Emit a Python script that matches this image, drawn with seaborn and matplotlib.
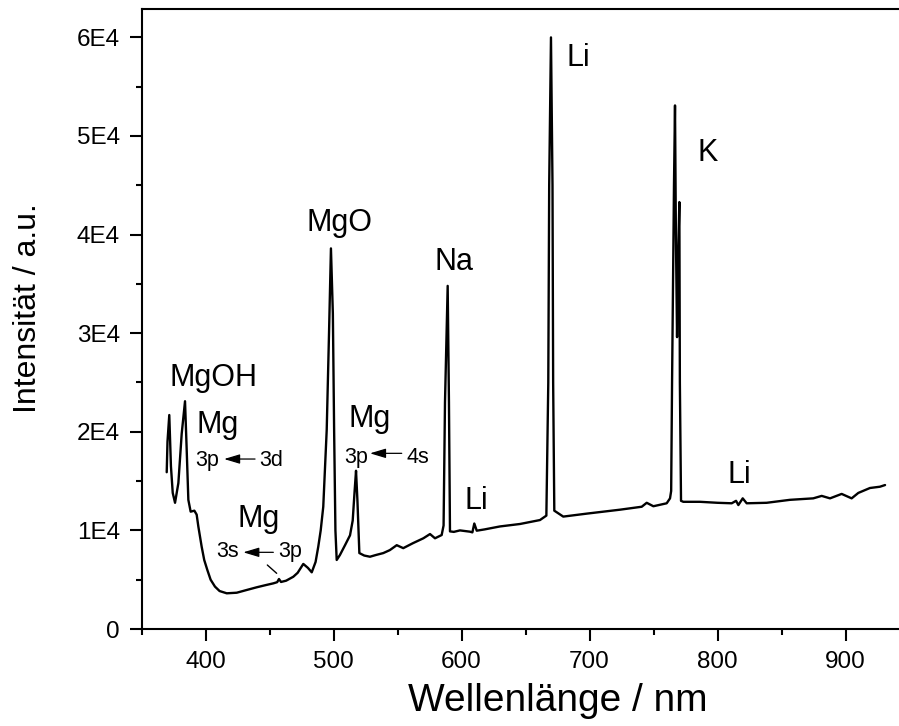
import numpy as np
import matplotlib
matplotlib.use("Agg")
import matplotlib.pyplot as plt
from matplotlib.ticker import MultipleLocator, FuncFormatter
import seaborn as sns

# ---- data ----
wavelength = [369.7, 370.3, 371.7, 373.0, 374.4, 376.2, 378.8, 381.4, 384.0, 385.3,
              386.6, 388.4, 391.3, 393.1, 394.4, 397.0, 399.0, 401.4, 404.0, 407.4,
              411.0, 416.6, 424.4, 432.0, 440.0, 447.0, 453.0, 456.0, 457.4, 459.0,
              463.0, 468.6, 472.0, 476.4, 480.0, 483.0, 486.0, 488.1, 490.0, 492.0,
              494.7, 496.5, 498.0, 499.5, 500.5, 501.5, 502.5, 505.0, 509.0, 512.9,
              515.0, 516.5, 517.6, 518.7, 520.2, 524.0, 528.5, 533.0, 538.9, 544.0,
              549.4, 554.5, 562.0, 570.2, 575.4, 579.3, 584.5, 586.0, 587.1, 589.2,
              590.2, 591.0, 594.0, 598.8, 606.6, 608.5, 610.0, 611.9, 618.0, 630.0,
              645.7, 661.3, 666.3, 667.8, 668.5, 669.9, 671.1, 671.6, 672.5, 679.5,
              697.8, 723.8, 740.8, 744.7, 749.9, 760.3, 762.9, 763.8, 764.5, 766.0,
              766.8, 767.5, 768.4, 769.3, 770.2, 770.6, 771.5, 773.3, 786.3, 800.0,
              811.1, 814.5, 816.3, 819.7, 822.8, 838.4, 856.6, 874.8, 881.4, 887.9,
              897.0, 904.8, 910.0, 919.1, 926.9, 930.9]
intensity = [15900, 19000, 21700, 16500, 13800, 12800, 14800, 19800, 23100, 18200,
             13100, 11900, 12000, 11600, 10400, 8350, 7000, 6000, 5000, 4300,
             3850, 3620, 3680, 3950, 4230, 4450, 4630, 4750, 5070, 4770,
             4900, 5300, 5700, 6600, 6200, 5750, 6800, 8350, 10000, 12400,
             20200, 30000, 38600, 32000, 20000, 10000, 7000, 7500, 8500, 9500,
             11000, 14000, 16050, 13000, 7700, 7450, 7330, 7500, 7700, 8000,
             8500, 8200, 8700, 9200, 9630, 9200, 9530, 10500, 23000, 34800,
             23000, 9900, 9850, 10000, 9870, 9800, 10700, 9970, 10100, 10400,
             10650, 11050, 11500, 25000, 45000, 60000, 45000, 25000, 12000, 11400,
             11700, 12100, 12400, 12800, 12450, 12750, 13250, 14000, 25000, 45000,
             53100, 40000, 29600, 38000, 43300, 25000, 13000, 12900, 12900, 12800,
             12750, 13000, 12570, 13250, 12750, 12800, 13100, 13250, 13500, 13250,
             13700, 13250, 13800, 14300, 14430, 14600]

x_ticks = [400, 500, 600, 700, 800, 900]
y_ticks = [0, 10000, 20000, 30000, 40000, 50000, 60000]

# labels: (text, x, y)
peak_labels = [("MgOH", 406.6, 24640), ("Mg", 409.8, 19843), ("MgO", 504.7, 40388),
               ("Mg", 528.5, 20513), ("Mg", 441.8, 10373), ("Na", 594.5, 36403),
               ("Li", 691.0, 57088), ("K", 792.0, 47486), ("Li", 611.2, 12138),
               ("Li", 816.9, 14774)]
level_labels = [("3p", 401.3, 16528), ("3d", 451.4, 16528),
                ("3p", 517.7, 16863), ("4s", 565.6, 16863),
                ("3s", 417.2, 7270), ("3p", 466.0, 7270)]
arrows = [((438.7, 17238), (414.5, 17238)),
          ((553.3, 17816), (528.5, 17816)),
          ((453.0, 7777), (429.5, 7777))]

# ---- style ----
sns.set_style("ticks")
plt.rcParams['font.family'] = ['Liberation Sans', 'DejaVu Sans']
plt.rcParams['text.color'] = 'black'
plt.rcParams['axes.labelcolor'] = 'black'
plt.rcParams['xtick.color'] = 'black'
plt.rcParams['ytick.color'] = 'black'

fig = plt.figure(figsize=(8.99, 7.26), dpi=100)
ax = fig.add_axes([141.5 / 899, 97 / 726, 832 / 899, 620 / 726])

sns.lineplot(x=wavelength, y=intensity, color='black', linewidth=1.7,
             estimator=None, sort=False, ax=ax)

ax.set_xlim(350, 1000)
ax.set_ylim(0, 62880)

ax.set_xticks(x_ticks)
ax.xaxis.set_minor_locator(MultipleLocator(50))
ax.set_yticks(y_ticks)
ax.yaxis.set_minor_locator(MultipleLocator(5000))
ax.yaxis.set_major_formatter(FuncFormatter(lambda v, p: '0' if v == 0 else f'{int(round(v / 1e4))}E4'))

ax.tick_params(axis='both', which='major', length=8.6, width=1.5, labelsize=17.5,
               pad=7, color='black', labelcolor='black', direction='out')
ax.tick_params(axis='both', which='minor', length=4.3, width=1.5, color='black',
               direction='out')

for side in ['left', 'bottom', 'top']:
    ax.spines[side].set_linewidth(1.5)
    ax.spines[side].set_color('black')
ax.spines['right'].set_visible(False)

ax.set_xlabel("Wellenlänge / nm", fontsize=28, color='black')
ax.set_ylabel("Intensität / a.u.", fontsize=23, color='black')
ax.xaxis.label.set_va('baseline')
ax.xaxis.set_label_coords(0.5, (629 - 711) / 620)
ax.yaxis.label.set_va('baseline')
ax.yaxis.label.set_rotation_mode('anchor')
ax.yaxis.set_label_coords((36 - 141.5) / 832, (629 - 308) / 620)

for t, x, y in peak_labels:
    ax.text(x, y, t, fontsize=22, ha='center', va='baseline', color='black')
for t, x, y in level_labels:
    ax.text(x, y, t, fontsize=15.5, ha='center', va='baseline', color='black')
for tail, tip in arrows:
    ax.annotate('', xy=tip, xytext=tail,
                arrowprops=dict(arrowstyle='-|>,head_length=0.6,head_width=0.18',
                                mutation_scale=16, color='black', lw=0.9,
                                shrinkA=0, shrinkB=0))
ax.plot([448.3, 455.6], [6490, 5648], color='black', lw=1.0)

fig.savefig('out.png', dpi=100)
